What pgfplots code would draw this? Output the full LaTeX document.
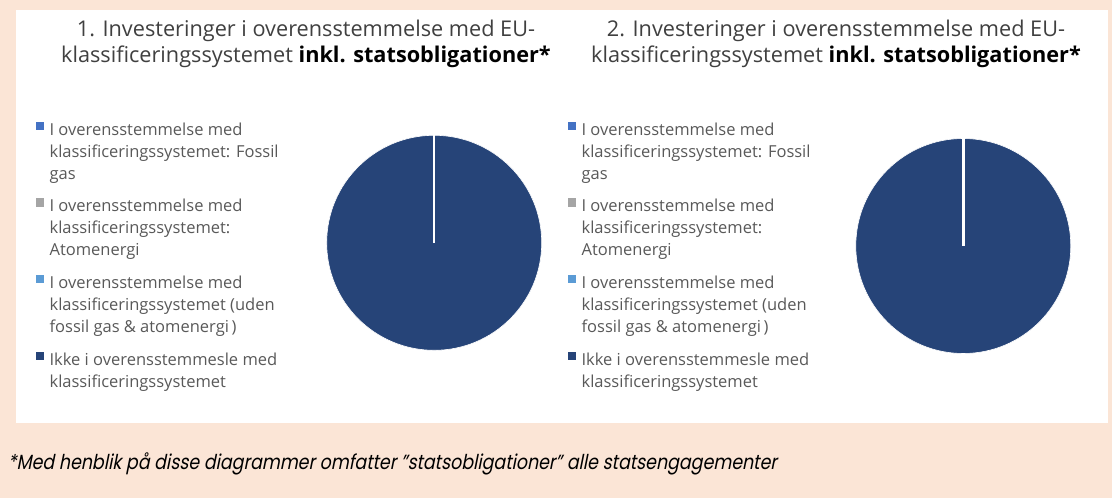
\documentclass[border=0pt]{standalone}
\usepackage{fontspec}
\setmainfont{Open Sans}
\newfontfamily\footfont[FakeSlant=0.2,FakeStretch=0.85]{Poppins}
\usepackage{pgfplots}
\pgfplotsset{compat=1.18}
\definecolor{peach}{HTML}{FBE5D6}
\definecolor{pieblue}{HTML}{264478}
\definecolor{cfossil}{HTML}{4472C4}
\definecolor{catom}{HTML}{A5A5A5}
\definecolor{cother}{HTML}{5B9BD5}
\definecolor{cnot}{HTML}{264478}
\definecolor{legendgray}{HTML}{595959}
\definecolor{titlegray}{HTML}{404040}
\pgfplotsset{
  piestyle/.style={
    width=215pt, height=215pt, scale only axis,
    xmin=-1, xmax=1, ymin=-1, ymax=1,
    hide axis, clip=false, clip marker paths=true, anchor=center,
    legend style={draw=none, fill=none, inner sep=0pt, row sep=15.8pt,
      font=\fontsize{16.5}{22}\selectfont, text=legendgray,
      cells={anchor=base west}, nodes={inner sep=0pt},
      /tikz/every odd column/.append style={column sep=6pt}},
    title style={anchor=base, inner sep=0pt,
      font=\fontsize{21.7}{26}\selectfont, text=titlegray},
  },
  sqA/.style={legend image code/.code={\fill[#1] (0pt,50pt) rectangle (7pt,57.3pt);}},
  sqB/.style={legend image code/.code={\fill[#1] (0pt,28pt) rectangle (7pt,35.3pt);}},
}
\newcommand{\entry}[1]{\raisebox{0pt}[\height][0pt]{\parbox[b]{260pt}{\raggedright\strut #1\strut}}}
\begin{document}
\begin{tikzpicture}
\useasboundingbox (0pt,0pt) rectangle (1112pt,498pt);
\fill[peach] (0pt,0pt) rectangle (1112pt,498pt);
\fill[white] (16pt,74.5pt) rectangle (1108pt,488pt);

% Chart 1: shares (Fossil gas, Atomenergi, uden, Ikke) = 0, 0, 0, 100
\begin{axis}[piestyle, at={(434.2pt,255.2pt)},
  legend style={at={(axis description cs:-1.352,1.073)}, anchor=north west},
  title style={at={(axis description cs:-0.0963,1.4293)}},
  title={\parbox[t]{560pt}{\centering 1. Investeringer i overensstemmelse med EU-\\klassificeringssystemet {\bfseries\color{black}inkl. statsobligationer*}}}]
\addplot[forget plot, only marks, mark=*, mark size=107.5pt,
  mark options={fill=pieblue, draw=white, line width=0.6pt}] coordinates {(0,0)};
\addplot[forget plot, white, line width=2.6pt] coordinates {(0,0) (0,1)};
\addlegendimage{sqA=cfossil}
\addlegendentry{\entry{I overensstemmelse med\\klassificeringssystemet: Fossil\\gas}}
\addlegendimage{sqA=catom}
\addlegendentry{\entry{I overensstemmelse med\\klassificeringssystemet:\\Atomenergi}}
\addlegendimage{sqA=cother}
\addlegendentry{\entry{I overensstemmelse med\\klassificeringssystemet (uden\\fossil gas \& atomenergi\,)}}
\addlegendimage{sqB=cnot}
\addlegendentry{\entry{Ikke i overensstemmesle med\\klassificeringssystemet}}
\end{axis}

% Chart 2: shares = 0, 0, 0, 100
\begin{axis}[piestyle, at={(963.3pt,252pt)},
  legend style={at={(axis description cs:-1.3386,1.0879)}, anchor=north west},
  title style={at={(axis description cs:-0.092,1.4442)}},
  title={\parbox[t]{560pt}{\centering 2. Investeringer i overensstemmelse med EU-\\klassificeringssystemet {\bfseries\color{black}inkl. statsobligationer*}}}]
\addplot[forget plot, only marks, mark=*, mark size=107.5pt,
  mark options={fill=pieblue, draw=white, line width=0.6pt}] coordinates {(0,0)};
\addplot[forget plot, white, line width=2.6pt] coordinates {(0,0) (0,1)};
\addlegendimage{sqA=cfossil}
\addlegendentry{\entry{I overensstemmelse med\\klassificeringssystemet: Fossil\\gas}}
\addlegendimage{sqA=catom}
\addlegendentry{\entry{I overensstemmelse med\\klassificeringssystemet:\\Atomenergi}}
\addlegendimage{sqA=cother}
\addlegendentry{\entry{I overensstemmelse med\\klassificeringssystemet (uden\\fossil gas \& atomenergi\,)}}
\addlegendimage{sqB=cnot}
\addlegendentry{\entry{Ikke i overensstemmesle med\\klassificeringssystemet}}
\end{axis}

\node[anchor=base west, inner sep=0pt, text=black,
  font=\footfont\fontsize{20.5}{22}\selectfont] at (8pt,28pt)
  {*Med henblik på disse diagrammer omfatter ”statsobligationer” alle statsengagementer};
\end{tikzpicture}
\end{document}
